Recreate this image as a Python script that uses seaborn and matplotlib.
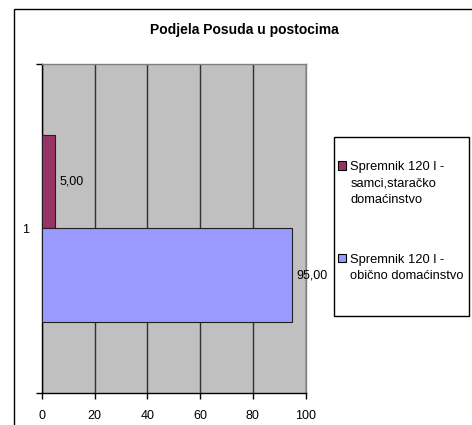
import matplotlib
matplotlib.use('Agg')
import matplotlib.pyplot as plt
from matplotlib.patches import Rectangle, Patch
import pandas as pd
import seaborn as sns

# data
categories = ['1', '1']
series = ['Spremnik 120 l -\nsamci,staračko\ndomaćinstvo',
          'Spremnik 120 l -\nobično domaćinstvo']
values = [5.0, 95.0]
value_labels = ['5,00', '95,00']
colors = ['#993366', '#9999FF']
xticks = [0, 20, 40, 60, 80, 100]

df = pd.DataFrame({'cat': categories, 'serija': series, 'postotak': values})

sns.set_style('white')
plt.rcParams['font.family'] = ['Liberation Sans', 'DejaVu Sans']
plt.rcParams['text.color'] = 'black'
plt.rcParams['xtick.color'] = 'black'
plt.rcParams['ytick.color'] = 'black'

fig = plt.figure(figsize=(4.72, 4.25), dpi=100)
ax = fig.add_axes([42 / 472, 32 / 425, 263.5 / 472, 329 / 425])
ax.set_facecolor('#C0C0C0')

sns.barplot(data=df, y='cat', x='postotak', hue='serija', hue_order=series,
            palette=colors, saturation=1, orient='h', width=0.57, dodge=True,
            edgecolor='#202020', linewidth=0.8, ax=ax, zorder=3)
ax.get_legend().remove()

for cont, lab in zip(ax.containers, value_labels):
    ax.bar_label(cont, labels=[lab], padding=3, fontsize=9, color='black')

ax.set_xlim(0, 100)
ax.set_ylim(0.5, -0.5)
ax.set_xticks(xticks)
ax.set_xticklabels([str(x) for x in xticks], fontsize=9)
ax.set_yticks([-0.5, 0.5])
ax.set_yticklabels(['', ''])
ax.set_yticks([0], minor=True)
ax.set_yticklabels(['1'], minor=True, fontsize=9)
ax.tick_params(axis='y', which='minor', length=0, pad=9)
ax.tick_params(axis='y', which='major', length=4, width=1, color='black', left=True)
ax.tick_params(axis='x', length=4, width=1, color='black', bottom=True, pad=8)
ax.set_xlabel('')
ax.set_ylabel('')

ax.grid(axis='x', color='#303030', linewidth=1, zorder=1)
ax.set_axisbelow(True)
for s in ['top', 'right']:
    ax.spines[s].set_color('#808080')
    ax.spines[s].set_linewidth(1)
for s in ['left', 'bottom']:
    ax.spines[s].set_color('black')
    ax.spines[s].set_linewidth(1)

fig.text(244 / 472, 1 - 30 / 425, 'Podjela Posuda u postocima',
         ha='center', va='center', fontsize=10, fontweight='bold')

# legend frame and entries
fig.patches.append(Rectangle((334 / 472, 1 - 316 / 425), 135 / 472, 179 / 425,
                             transform=fig.transFigure, facecolor='white',
                             edgecolor='black', linewidth=1))
handles = [Patch(facecolor=c, edgecolor='black', linewidth=0.8) for c in colors]
leg = fig.legend(handles, series, loc='upper left',
                 bbox_to_anchor=(338 / 472, 1 - 161 / 425),
                 frameon=False, fontsize=9.3, borderpad=0, borderaxespad=0,
                 handlelength=0.65, handleheight=0.65, handletextpad=0.3,
                 labelspacing=3.7)
for t in leg.get_texts():
    t.set_linespacing(1.5)
# keep the small squares level with the first line of each label
for col in leg._legend_handle_box.get_children():
    for row in col.get_children():
        row.align = 'top'

# outer chart border
fig.patches.append(Rectangle((14 / 472, -0.1), 1.2, 0.1 + 1 - 9 / 425,
                             transform=fig.transFigure, facecolor='none',
                             edgecolor='black', linewidth=1))

fig.savefig('out.png', dpi=100)
